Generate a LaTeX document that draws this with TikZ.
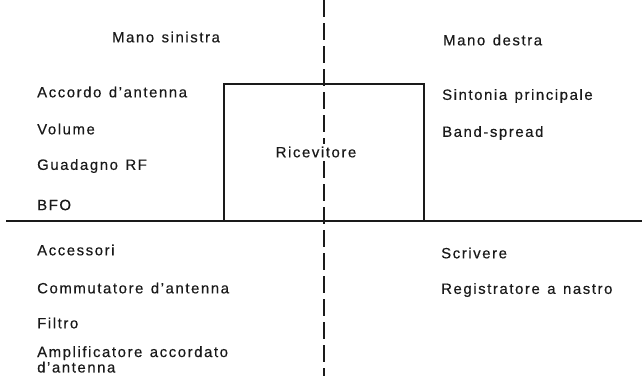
\documentclass[tikz,border=0pt]{standalone}
\usepackage{fontspec}
\setmainfont{Liberation Sans}[LetterSpace=10.5,WordSpace=1.3,FakeBold=0.4]
\usetikzlibrary{positioning}
\definecolor{inkblk}{HTML}{1A1A1A}

\begin{document}
\begin{tikzpicture}[x=1bp,y=-1bp,inkblk,font=\fontsize{15}{17}\selectfont,
    lbl/.style={anchor=west,inner sep=0pt},
    head/.style={inner sep=0pt}]

  \useasboundingbox (0,0) rectangle (642,376);

  % ===== AXES =====
  \draw[line width=1.3pt,dash pattern=on 17bp off 6bp] (324,0) -- (324,376);
  \draw[line width=1.2pt] (6,221) -- (642,221);

  % ===== RECEIVER =====
  \node[draw,line width=2.4pt,minimum width=200bp,minimum height=137bp,inner sep=0pt]
        (rx) at (324,152.5) {};
  \node[head,fill=white,inner sep=3pt] (rxlabel) at (316,152) {Ricevitore};

  % ===== LEFT HAND =====
  \node[head] (lefthand) at (166,37) {Mano sinistra};
  \node[lbl] (tune) at (37,92) {Accordo d’antenna};
  \node[lbl] (vol) at (37,129) {Volume};
  \node[lbl] (rfgain) at (37,166) {Guadagno RF};
  \node[lbl] (bfo) at (37,205) {BFO};

  % ===== RIGHT HAND =====
  \node[lbl] (righthand) at (443,40) {Mano destra};
  \node[lbl] (maintune) at (442,96) {Sintonia principale};
  \node[lbl] (bandspread) at (442,133) {Band-spread};

  % ===== ACCESSORIES =====
  \node[lbl] (acc) at (37,250) {Accessori};
  \node[lbl] (antsw) at (37,288) {Commutatore d’antenna};
  \node[lbl] (filter) at (37,323) {Filtro};
  \node[lbl,align=left,anchor=north west] (preamp) at (37,346)
        {Amplificatore accordato\\[-1.5pt]d’antenna};
  \node[lbl] (write) at (441,253) {Scrivere};
  \node[lbl] (tape) at (441,290) {Registratore a nastro};

\end{tikzpicture}
\end{document}
